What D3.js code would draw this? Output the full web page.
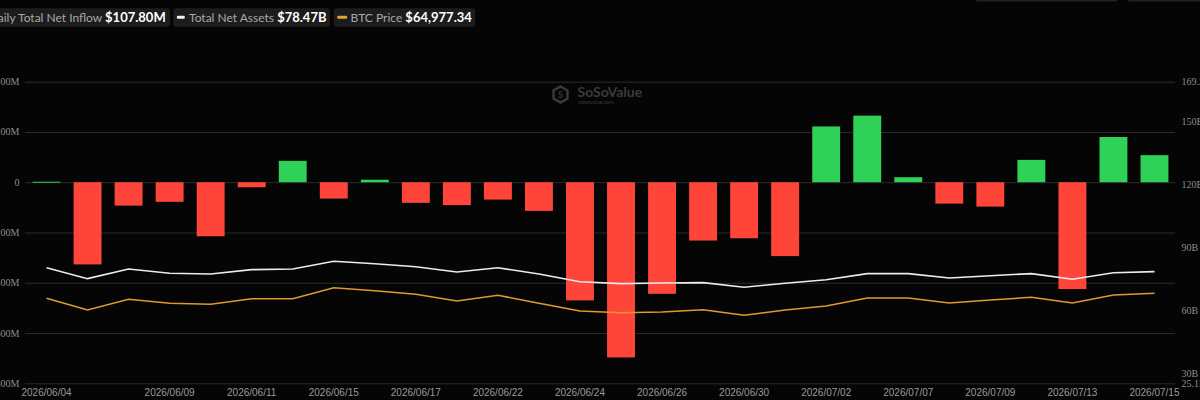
<!DOCTYPE html>
<html>
<head>
<meta charset="utf-8">
<script src="https://cdn.jsdelivr.net/npm/d3@7/dist/d3.min.js"></script>
<style>
  html, body { margin: 0; padding: 0; background: #050505; overflow: hidden; }
  svg { display: block; }
</style>
</head>
<body>
<svg id="chart" width="1200" height="400"></svg>
<script>
// ---- data ----
const dates = ["2026/06/04","2026/06/05","2026/06/08","2026/06/09","2026/06/10","2026/06/11","2026/06/12",
  "2026/06/15","2026/06/16","2026/06/17","2026/06/18","2026/06/22","2026/06/23","2026/06/24","2026/06/25",
  "2026/06/26","2026/06/29","2026/06/30","2026/07/01","2026/07/02","2026/07/06","2026/07/07","2026/07/08",
  "2026/07/09","2026/07/10","2026/07/13","2026/07/14","2026/07/15"];
// daily total net inflow, USD millions
const netInflow = [2, -327, -93, -78, -215, -20, 85, -65, 10, -82, -91, -69, -114, -470, -697,
  -444, -232, -223, -294, 222, 265, 20, -85, -97, 89, -425, 180, 107.8];
// total net assets, USD billions
const netAssets = [80.3, 75.1, 79.7, 77.7, 77.3, 79.4, 79.7, 83.4, 82.2, 80.8, 78.3, 80.3, 77.3, 73.6,
  72.7, 73.0, 73.2, 71.0, 72.9, 74.6, 77.5, 77.5, 75.4, 76.5, 77.5, 74.8, 77.9, 78.47];
// BTC price, USD
const btcPrice = [63150, 58940, 62790, 61350, 60990, 63000, 63000, 66960, 65880, 64590, 62180, 64230,
  61350, 58590, 57970, 58230, 59050, 57040, 58940, 60380, 63260, 63260, 61460, 62540, 63510, 61460,
  64340, 64977.34];
const xTickLabels = ["2026/06/04","2026/06/09","2026/06/11","2026/06/15","2026/06/17","2026/06/22",
  "2026/06/24","2026/06/26","2026/06/30","2026/07/02","2026/07/07","2026/07/09","2026/07/13","2026/07/15"];
const leftTicks = [400, 200, 0, -200, -400, -600, -800];
const rightTicks = [169.2, 150, 120, 90, 60, 30, 25.1];
const legendItems = [
  { label: "Daily Total Net Inflow", value: "$107.80M", color: "#30d158" },
  { label: "Total Net Assets", value: "$78.47B", color: "#f2f2f2" },
  { label: "BTC Price", value: "$64,977.34", color: "#e5a534" }
];

// ---- layout ----
const svg = d3.select("#chart");
const plotL = 26, plotR = 1175, plotT = 81.7, plotB = 383.3;
const green = "#30d158", red = "#ff453a";

const x = d3.scaleBand().domain(dates).range([plotL, plotR]).paddingInner(0.32).paddingOuter(0.16);
const yL = d3.scaleLinear().domain([-800, 400]).range([plotB, plotT]);
const yR = d3.scaleLinear().domain([25.1, 169.2]).range([plotB, plotT]);
const yP = d3.scaleLinear().domain([32600, 141000]).range([plotB, plotT]);

// top-right buttons (cut off)
svg.append("rect").attr("x", 975).attr("y", -12).attr("width", 143).attr("height", 13.5).attr("rx", 3).attr("fill", "#222");
svg.append("rect").attr("x", 1127).attr("y", -12).attr("width", 90).attr("height", 13.5).attr("rx", 3).attr("fill", "#222");

// legend
const legendBoxes = [[-60, 170], [173.3, 330], [333.7, 475.3]];
const lg = svg.append("g");
legendItems.forEach((d, i) => {
  const [x0, x1] = legendBoxes[i];
  const g = lg.append("g");
  g.append("rect").attr("x", x0).attr("y", 8.3).attr("width", x1 - x0).attr("height", 18.4).attr("rx", 3).attr("fill", "#1c1c1c");
  g.append("rect").attr("x", x0 + 3.5).attr("y", 15.8).attr("width", i === 2 ? 10 : 8).attr("height", 3).attr("rx", 1.2).attr("fill", d.color);
  const t = g.append("text").attr("x", i === 0 ? x1 - 4.3 : x1 - 3.5).attr("y", 21.7)
    .attr("text-anchor", "end")
    .style("font-family", "Lato, 'Open Sans', sans-serif");
  t.append("tspan").attr("fill", "#a8a8a8").style("font-size", "12px").text(d.label + " ");
  t.append("tspan").attr("fill", "#ffffff").style("font-size", "13px").style("font-weight", "bold").text(d.value);
});

// watermark
const wm = svg.append("g").attr("fill", "#3a3a3a");
wm.append("path")
  .attr("d", "M560.5,86.5 L567.5,90.5 L567.5,98.5 L560.5,102.5 L553.5,98.5 L553.5,90.5 Z")
  .attr("fill", "none").attr("stroke", "#3a3a3a").attr("stroke-width", 2.4);
wm.append("text").attr("x", 560.5).attr("y", 97.5).attr("text-anchor", "middle")
  .style("font-family", "Lato, sans-serif").style("font-size", "9px").style("font-weight", "bold").text("S");
wm.append("text").attr("x", 577.5).attr("y", 97).style("font-family", "Lato, sans-serif")
  .style("font-size", "14px").style("font-weight", "bold").text("SoSoValue");
wm.append("text").attr("x", 578.5).attr("y", 103.5).style("font-family", "Lato, sans-serif")
  .style("font-size", "5.5px").text("sosovalue.com");

// grid
svg.append("g").selectAll("line").data(leftTicks).join("line")
  .attr("x1", 25).attr("x2", plotR).attr("y1", d => yL(d) + 0.5).attr("y2", d => yL(d) + 0.5)
  .attr("stroke", "#2b2b2b").attr("stroke-width", 1);

// left axis labels
svg.append("g").selectAll("text").data(leftTicks).join("text")
  .attr("x", 19.5).attr("y", d => yL(d) + 3.5).attr("text-anchor", "end")
  .attr("fill", "#8c8c8c").style("font-family", "'Liberation Serif', 'DejaVu Serif', serif").style("font-size", "10px")
  .text(d => d === 0 ? "0" : d + "M");

// right axis labels
svg.append("g").selectAll("text").data(rightTicks).join("text")
  .attr("x", 1181.5).attr("y", d => yR(d) + 3.5).attr("text-anchor", "start")
  .attr("fill", "#8c8c8c").style("font-family", "'Liberation Serif', 'DejaVu Serif', serif").style("font-size", "10px")
  .text(d => (Number.isInteger(d) ? d : d.toFixed(1)) + "B");

// bars
svg.append("g").selectAll("rect").data(dates).join("rect")
  .attr("x", d => x(d))
  .attr("width", x.bandwidth())
  .attr("y", (d, i) => Math.min(yL(0), yL(netInflow[i])))
  .attr("height", (d, i) => Math.max(1, Math.abs(yL(netInflow[i]) - yL(0))))
  .attr("fill", (d, i) => netInflow[i] >= 0 ? green : red);

// lines
const cx = d => x(d) + x.bandwidth() / 2;
svg.append("path").datum(dates)
  .attr("fill", "none").attr("stroke", "#ececec").attr("stroke-width", 1.6)
  .attr("d", d3.line().x(d => cx(d)).y((d, i) => yR(netAssets[i])));
svg.append("path").datum(dates)
  .attr("fill", "none").attr("stroke", "#e09a2c").attr("stroke-width", 1.6)
  .attr("d", d3.line().x(d => cx(d)).y((d, i) => yP(btcPrice[i])));

// x axis labels (at band centres)
svg.append("g").selectAll("text").data(xTickLabels).join("text")
  .attr("x", d => cx(d))
  .attr("y", 396).attr("text-anchor", "middle")
  .attr("fill", "#9a9a9a").style("font-family", "'Liberation Sans', Arial, sans-serif").style("font-size", "10px")
  .text(d => d);
</script>
</body>
</html>
